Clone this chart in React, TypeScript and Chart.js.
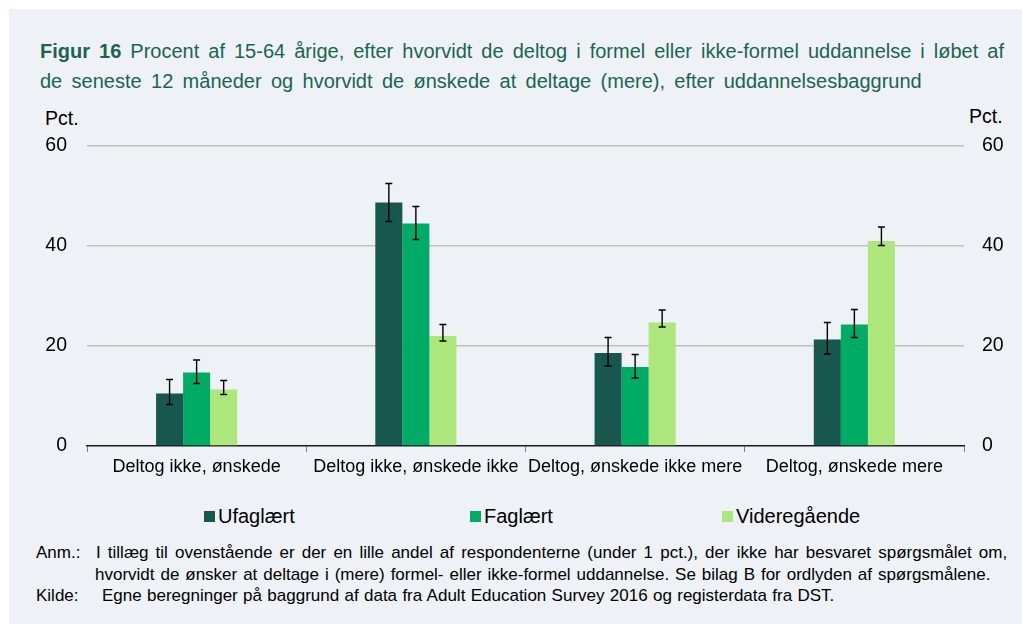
import React, { useEffect, useRef } from "react";
import { Chart, registerables } from "chart.js";

Chart.register(...registerables);

const categories = [
  "Deltog ikke, ønskede",
  "Deltog ikke, ønskede ikke",
  "Deltog, ønskede ikke mere",
  "Deltog, ønskede mere",
];
const seriesNames = ["Ufaglært", "Faglært", "Videregående"];
const seriesColors = ["#17574E", "#00AB66", "#ADE67A"];

const ufaglaert = [10.5, 48.7, 18.6, 21.3];
const ufaglaertLow = [8.3, 44.9, 16.0, 18.4];
const ufaglaertHigh = [13.3, 52.5, 21.7, 24.7];

const faglaert = [14.7, 44.5, 15.8, 24.3];
const faglaertLow = [12.5, 41.3, 13.6, 21.7];
const faglaertHigh = [17.2, 47.9, 18.3, 27.3];

const videregaaende = [11.3, 22.0, 24.7, 41.0];
const videregaaendeLow = [10.3, 21.0, 23.8, 40.1];
const videregaaendeHigh = [13.1, 24.3, 27.2, 43.8];

const yTicks = [0, 20, 40, 60];

const titleBold = "Figur 16";
const titleLine1 =
  " Procent af 15-64 årige, efter hvorvidt de deltog i formel eller ikke-formel uddannelse i løbet af";
const titleLine2 =
  "de seneste 12 måneder og hvorvidt de ønskede at deltage (mere), efter uddannelsesbaggrund";
const noteLabel = "Anm.:";
const noteLine1 =
  "I tillæg til ovenstående er der en lille andel af respondenterne (under 1 pct.), der ikke har besvaret spørgsmålet om,";
const noteLine2 =
  "hvorvidt de ønsker at deltage i (mere) formel- eller ikke-formel uddannelse. Se bilag B for ordlyden af spørgsmålene.";
const sourceLabel = "Kilde:";
const sourceLine =
  "Egne beregninger på baggrund af data fra Adult Education Survey 2016 og registerdata fra DST.";

const FONT = "'Liberation Sans', Arial, Helvetica, sans-serif";

const values = [ufaglaert, faglaert, videregaaende];
const lows = [ufaglaertLow, faglaertLow, videregaaendeLow];
const highs = [ufaglaertHigh, faglaertHigh, videregaaendeHigh];

const errorBarPlugin = {
  id: "errorBars",
  afterDatasetsDraw(chart: any) {
    const ctx = chart.ctx;
    const yScale = chart.scales.y;
    ctx.save();
    ctx.strokeStyle = "#000000";
    ctx.lineWidth = 1.4;
    chart.data.datasets.forEach((ds: any, di: number) => {
      const meta = chart.getDatasetMeta(di);
      meta.data.forEach((bar: any, i: number) => {
        const x = bar.x;
        const yl = yScale.getPixelForValue(ds.errLow[i]);
        const yh = yScale.getPixelForValue(ds.errHigh[i]);
        const cap = 3.5;
        ctx.beginPath();
        ctx.moveTo(x, yl);
        ctx.lineTo(x, yh);
        ctx.moveTo(x - cap, yh);
        ctx.lineTo(x + cap, yh);
        ctx.moveTo(x - cap, yl);
        ctx.lineTo(x + cap, yl);
        ctx.stroke();
      });
    });
    ctx.restore();
  },
};

export default function App() {
  const canvasRef = useRef<HTMLCanvasElement | null>(null);

  useEffect(() => {
    if (!canvasRef.current) return;
    const chart = new Chart(canvasRef.current, {
      type: "bar",
      data: {
        labels: categories,
        datasets: seriesNames.map((name, k) => ({
          label: name,
          data: values[k],
          errLow: lows[k],
          errHigh: highs[k],
          backgroundColor: seriesColors[k],
          borderWidth: 0,
          categoryPercentage: 0.37,
          barPercentage: 1.0,
          yAxisID: "y",
        })) as any,
      },
      options: {
        animation: false,
        responsive: false,
        maintainAspectRatio: false,
        layout: { padding: { top: 146, left: 0, right: 0, bottom: 0 } },
        plugins: {
          legend: { display: false },
          title: { display: false },
          tooltip: { enabled: false },
        },
        scales: {
          x: {
            grid: {
              display: true,
              drawOnChartArea: false,
              drawTicks: true,
              tickLength: 6,
              color: "#7F7F7F",
              lineWidth: 1,
              offset: true,
            },
            border: { display: true, color: "#1A1A1A", width: 1.5 },
            ticks: {
              color: "#000000",
              font: { family: FONT, size: 18 },
              padding: 4,
              maxRotation: 0,
              autoSkip: false,
            },
            afterFit: (axis: any) => {
              axis.height = 44;
            },
          },
          y: {
            position: "left",
            min: 0,
            max: 60,
            afterBuildTicks: (axis: any) => {
              axis.ticks = yTicks.map((v) => ({ value: v }));
            },
            grid: {
              drawTicks: false,
              color: (c: any) => (c.tick && c.tick.value === 0 ? "rgba(0,0,0,0)" : "#BFBFBF"),
              lineWidth: 1.5,
            },
            border: { display: false },
            ticks: {
              color: "#000000",
              font: { family: FONT, size: 19.5 },
              padding: 20,
            },
            afterFit: (axis: any) => {
              axis.width = 87;
            },
          },
          y2: {
            position: "right",
            min: 0,
            max: 60,
            afterBuildTicks: (axis: any) => {
              axis.ticks = yTicks.map((v) => ({ value: v }));
            },
            grid: { display: false, drawTicks: false },
            border: { display: false },
            ticks: {
              color: "#000000",
              font: { family: FONT, size: 19.5 },
              padding: 18,
            },
            afterFit: (axis: any) => {
              axis.width = 58;
            },
          },
        },
      } as any,
      plugins: [errorBarPlugin],
    });
    return () => chart.destroy();
  }, []);

  const abs = (left: number, top: number): React.CSSProperties => ({
    position: "absolute",
    left,
    top,
    whiteSpace: "nowrap",
  });

  const legendX = [204, 470, 722];

  return (
    <div
      style={{
        position: "absolute",
        left: 0,
        top: 0,
        width: 1022,
        height: 624,
        background: "#FFFFFF",
        overflow: "hidden",
        fontFamily: FONT,
      }}
    >
      <div
        style={{
          position: "absolute",
          left: 9,
          top: 9,
          width: 1013,
          height: 615,
          background: "#EEF2F6",
        }}
      />
      <div
        style={{
          position: "absolute",
          left: 40,
          top: 36,
          width: 964,
          fontSize: 20,
          lineHeight: "30px",
          color: "#1B6450",
        }}
      >
        <div style={{ whiteSpace: "nowrap", textAlign: "justify", textAlignLast: "justify" as any }}>
          <b>{titleBold}</b>
          {titleLine1}
        </div>
        <div style={{ whiteSpace: "nowrap", wordSpacing: "3.8px" }}>{titleLine2}</div>
      </div>
      <div style={{ ...abs(45, 106), fontSize: 19.5, lineHeight: "24px", color: "#000" }}>Pct.</div>
      <div style={{ ...abs(969, 104), fontSize: 19.5, lineHeight: "24px", color: "#000" }}>Pct.</div>
      <canvas
        ref={canvasRef}
        width={1022}
        height={490}
        style={{ position: "absolute", left: 0, top: 0, width: 1022, height: 490 }}
      />
      {seriesNames.map((name, k) => (
        <div key={name} style={{ ...abs(legendX[k], 504), height: 24, fontSize: 20, lineHeight: "24px", color: "#000" }}>
          <span
            style={{
              position: "absolute",
              left: 0,
              top: 7,
              width: 11,
              height: 11,
              background: seriesColors[k],
            }}
          />
          <span style={{ position: "absolute", left: 14, top: 0 }}>{name}</span>
        </div>
      ))}
      <div style={{ ...abs(36, 542), fontSize: 17, lineHeight: "21.5px", color: "#000" }}>{noteLabel}</div>
      <div style={{ ...abs(96, 542), fontSize: 17, lineHeight: "21.5px", color: "#000", wordSpacing: "2.4px" }}>{noteLine1}</div>
      <div style={{ ...abs(95, 564), fontSize: 17, lineHeight: "21.5px", color: "#000", wordSpacing: "1.2px" }}>{noteLine2}</div>
      <div style={{ ...abs(36, 585), fontSize: 17, lineHeight: "21.5px", color: "#000" }}>{sourceLabel}</div>
      <div style={{ ...abs(102, 585), fontSize: 17, lineHeight: "21.5px", color: "#000", wordSpacing: "0.6px" }}>{sourceLine}</div>
    </div>
  );
}
